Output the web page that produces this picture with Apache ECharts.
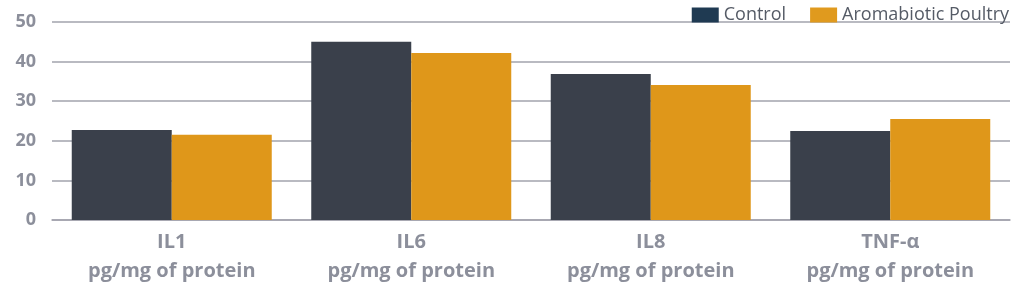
<!DOCTYPE html>
<html>
<head>
<meta charset="utf-8">
<script src="https://cdn.jsdelivr.net/npm/echarts@6/dist/echarts.min.js"></script>
<style>
  html, body { margin: 0; padding: 0; background: #fff; }
  #chart { width: 1024px; height: 286px; }
</style>
</head>
<body>
<div id="chart"></div>
<script>
const categories = ['IL1\npg/mg of protein', 'IL6\npg/mg of protein', 'IL8\npg/mg of protein', 'TNF-α\npg/mg of protein']
const controlValues = [22.7, 45.0, 36.9, 22.5]
const poultryValues = [21.5, 42.2, 34.1, 25.5]
const yTicks = { min: 0, max: 50, interval: 10 }

const chart = echarts.init(document.getElementById('chart'))
const font = '"Open Sans", "Noto Sans", sans-serif'

chart.setOption({
  animation: false,
  textStyle: { fontFamily: font },
  legend: {
    right: 10,
    top: 1,
    itemWidth: 27,
    itemHeight: 15,
    itemGap: 24,
    icon: 'rect',
    textStyle: { color: '#555b66', fontSize: 18, fontFamily: font },
    data: [
      { name: 'Control', itemStyle: { color: '#1f3a52' } },
      { name: 'Aromabiotic Poultry', itemStyle: { color: '#e09a1e' } }
    ]
  },
  grid: {
    left: 52,
    right: 14,
    top: 22,
    bottom: 65
  },
  xAxis: {
    type: 'category',
    data: categories,
    axisLine: { show: true, lineStyle: { color: '#a2a3ad', width: 1.5 } },
    axisTick: { show: false },
    axisLabel: {
      color: '#8c8f9b',
      fontSize: 20,
      fontWeight: 'bold',
      lineHeight: 29,
      margin: 8
    }
  },
  yAxis: {
    type: 'value',
    min: yTicks.min,
    max: yTicks.max,
    interval: yTicks.interval,
    axisLine: { show: false },
    axisTick: { show: false },
    splitLine: { lineStyle: { color: '#a2a3ad', width: 1.5 } },
    axisLabel: {
      color: '#8c8f9b',
      fontSize: 18,
      fontWeight: 'bold',
      margin: 16
    }
  },
  series: [
    {
      name: 'Control',
      type: 'bar',
      barWidth: 100,
      barGap: '0%',
      data: controlValues,
      itemStyle: { color: '#3a404b' }
    },
    {
      name: 'Aromabiotic Poultry',
      type: 'bar',
      barWidth: 100,
      data: poultryValues,
      itemStyle: { color: '#df971a' }
    }
  ]
})
</script>
</body>
</html>
